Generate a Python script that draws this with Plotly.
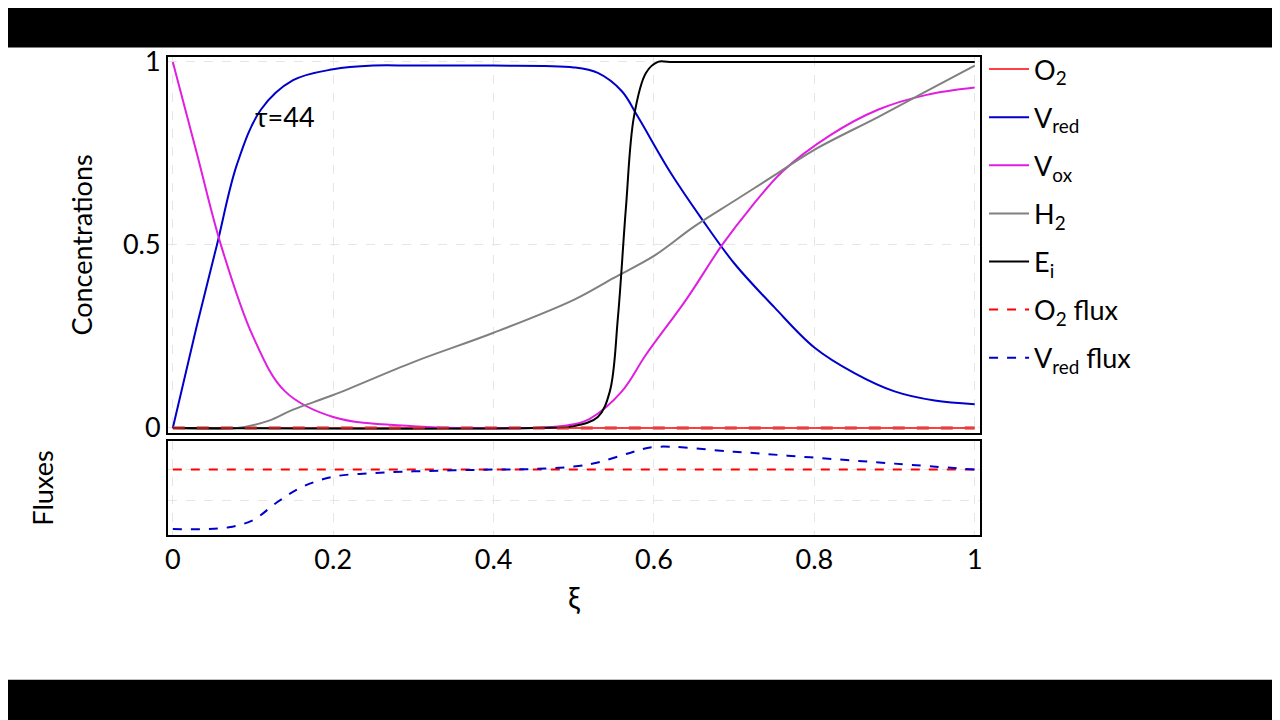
import plotly.graph_objects as go
from plotly.subplots import make_subplots

# concentrations
x_vred = [0, 0.03, 0.055, 0.08, 0.11, 0.15, 0.2, 0.25, 0.3, 0.4, 0.5, 0.53, 0.56, 0.58, 0.62, 0.66, 0.7, 0.75, 0.8, 0.85, 0.9, 0.95, 1.0]
vred = [0, 0.28, 0.5, 0.72, 0.87, 0.95, 0.98, 0.99, 0.99, 0.99, 0.985, 0.97, 0.92, 0.85, 0.7, 0.57, 0.45, 0.33, 0.22, 0.15, 0.1, 0.075, 0.065]
x_vox = [0, 0.03, 0.06, 0.1, 0.14, 0.2, 0.3, 0.45, 0.5, 0.52, 0.56, 0.59, 0.64, 0.685, 0.72, 0.76, 0.82, 0.88, 0.94, 1.0]
vox = [1, 0.75, 0.5, 0.25, 0.1, 0.03, 0.005, 0, 0.01, 0.025, 0.1, 0.2, 0.35, 0.5, 0.6, 0.7, 0.8, 0.87, 0.91, 0.93]
x_h2 = [0, 0.08, 0.12, 0.15, 0.2, 0.3, 0.4, 0.5, 0.55, 0.6, 0.65, 0.7, 0.75, 0.8, 0.88, 0.94, 1.0]
h2 = [0, 0, 0.02, 0.05, 0.09, 0.18, 0.26, 0.35, 0.41, 0.47, 0.55, 0.62, 0.69, 0.76, 0.85, 0.92, 0.99]
x_ei = [0, 0.45, 0.5, 0.53, 0.545, 0.555, 0.565, 0.575, 0.59, 0.605, 0.62, 1.0]
ei = [0, 0, 0.005, 0.03, 0.1, 0.3, 0.6, 0.85, 0.97, 1.0, 1.0, 1.0]
x_o2 = [0, 1.0]
o2 = [0, 0]

# fluxes
x_vflux = [0, 0.04, 0.07, 0.1, 0.13, 0.16, 0.2, 0.25, 0.3, 0.4, 0.45, 0.5, 0.53, 0.57, 0.6, 0.7, 0.8, 0.9, 1.0]
vflux = [-1, -1, -0.97, -0.85, -0.55, -0.3, -0.12, -0.06, -0.03, 0, 0.01, 0.05, 0.12, 0.28, 0.38, 0.3, 0.2, 0.1, 0]
x_oflux = [0, 1.0]
oflux = [0, 0]

FONT = "Lato"
fig = make_subplots(rows=2, cols=1, shared_xaxes=True, row_heights=[0.8, 0.2], vertical_spacing=0.017)

def add(x, y, name, color, row, dash="solid", width=2, group=None):
    fig.add_trace(go.Scatter(x=x, y=y, name=name, mode="lines", legendgroup=group or name,
                             line=dict(color=color, width=width, dash=dash, shape="spline")),
                  row=row, col=1)

add(x_o2, o2, "O<sub>2</sub>", "red", 1, width=1.5)
add(x_vred, vred, "V<sub>red</sub>", "#0000cc", 1)
add(x_vox, vox, "V<sub>ox</sub>", "#e01ee0", 1)
add(x_h2, h2, "H<sub>2</sub>", "gray", 1)
add(x_ei, ei, "E<sub>i</sub>", "black", 1)
fig.add_trace(go.Scatter(x=x_o2, y=o2, showlegend=False, mode="lines", hoverinfo="skip",
                         line=dict(color="rgba(220,60,60,0.6)", width=4, dash="dash")), row=1, col=1)
add(x_oflux, oflux, "O<sub>2</sub> flux", "red", 2, dash="dash")
add(x_vflux, vflux, "V<sub>red</sub> flux", "#0000cc", 2, dash="dash")

ax = dict(showline=True, linecolor="black", linewidth=2, mirror=True, ticks="",
          gridcolor="#e6e6e6", griddash="dash", zeroline=False, tickfont=dict(size=27))
fig.update_xaxes(**ax, range=[-0.006, 1.0066], tickvals=[0, 0.2, 0.4, 0.6, 0.8, 1],
                 ticktext=["0", "0.2", "0.4", "0.6", "0.8", "1"])
fig.update_xaxes(title_text="ξ", title_font=dict(size=30), title_standoff=14, row=2, col=1)
fig.update_yaxes(**ax)
fig.update_yaxes(range=[-0.0135, 1.0135], tickvals=[0, 0.5, 1], ticktext=["0", "0.5", "1"],
                 title_text="Concentrations", title_font=dict(size=27), title_standoff=22, row=1, col=1)
fig.update_yaxes(range=[-1.1, 0.48], tickvals=[0, -0.52], showticklabels=False,
                 title_text="Fluxes", title_font=dict(size=27), title_standoff=105, row=2, col=1)

fig.add_annotation(x=0.1, y=0.85, text="τ=44", showarrow=False, xanchor="left",
                   font=dict(size=27, color="black"), xref="x", yref="y")

# black bands at top and bottom
for y0, y1 in [(1.02, 1.2), (-0.303, -0.5)]:
    fig.add_shape(type="rect", xref="paper", yref="paper", x0=-0.3, x1=1.5, y0=y0, y1=y1,
                  fillcolor="black", line_width=0, layer="above")

fig.update_layout(
    width=1280, height=720, plot_bgcolor="white", paper_bgcolor="white",
    margin=dict(l=160, r=308, t=49, b=193),
    font=dict(family=FONT, size=26, color="black"),
    legend=dict(x=1.005, y=1.025, xanchor="left", yanchor="top", font=dict(size=27),
                bgcolor="rgba(0,0,0,0)", tracegroupgap=10, itemwidth=40),
    showlegend=True,
)
fig.write_html("out.html")
